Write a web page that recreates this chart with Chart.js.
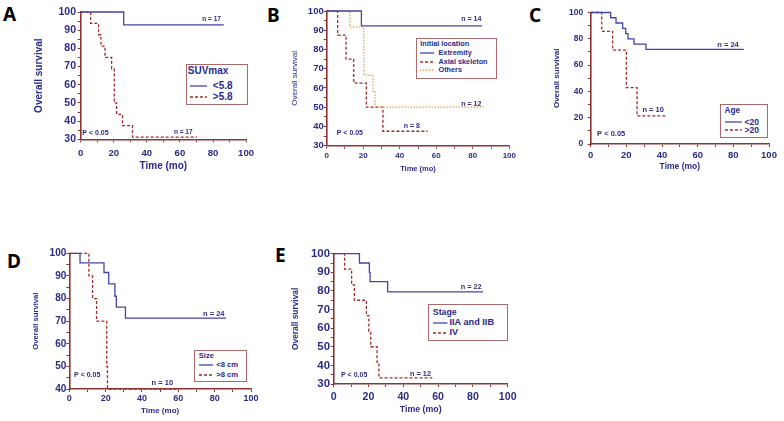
<!doctype html>
<html>
<head>
<title>Overall survival</title>
<script src="https://cdn.jsdelivr.net/npm/chart.js@4.4.1"></script>
<style>
* { margin: 0; padding: 0; }
body { width: 784px; height: 421px; background: #fff; position: relative; overflow: hidden; font-family: "Liberation Sans", Arial, sans-serif; }
canvas { position: absolute; }
.tag { position: absolute; font-family: "Noto Sans", sans-serif; font-weight: bold; font-size: 19px; line-height: 1; color: #000; }
.legend { position: absolute; border: 1.5px solid #a86a6a; box-sizing: border-box; background: #fff; }
.legend span { position: absolute; white-space: nowrap; color: #2b2b86; font-weight: bold; line-height: 1; transform: translateY(-50%); }
.legend svg { position: absolute; overflow: visible; }
</style>
</head>
<body>
<script>
// ---- data (time in months, survival in %) ----
// A: SUVmax
const aLowT  = [0, 26, 86.5];
const aLowS  = [100, 92.9, 92.9];
const aHighT = [0, 6, 10.8, 12.2, 14.7, 18.7, 20.3, 21.7, 25.3, 31.3, 70.3];
const aHighS = [100, 93.75, 87.5, 81.25, 75, 68.75, 50, 43.75, 37.5, 31.25, 31.25];
// B: initial location
const bExtT   = [0, 19, 85];
const bExtS   = [100, 92.3, 92.3];
const bAxialT = [0, 6, 10.6, 14.8, 21.7, 30.8, 55.3];
const bAxialS = [100, 87.5, 75, 62.5, 50, 37.5, 37.5];
const bOtherT = [0, 12.6, 20.3, 25.4, 26.5, 86];
const bOtherS = [100, 91.7, 66.7, 58.3, 50, 50];
// C: age
const cYoungT = [0, 11.2, 14.2, 17.9, 19.6, 20.9, 24.3, 31, 85.8];
const cYoungS = [100, 96, 92, 88, 84, 80, 76, 72, 72];
const cOldT   = [0, 6.2, 12.3, 20, 26, 43];
const cOldS   = [100, 85.7, 71.4, 42.9, 21.4, 21.4];
// D: size
const dSmallT = [0, 5.9, 19.1, 21.7, 25.1, 25.9, 30.9, 86.2];
const dSmallS = [100, 95.8, 91.5, 86.5, 81, 76.2, 71.3, 71.3];
const dLargeT = [0, 10.8, 12.8, 15, 20.6, 21, 59];
const dLargeS = [100, 90, 80, 70, 50, 40, 40];
// E: stage
const eEarlyT = [0, 14.8, 20.5, 20.9, 31, 85.8];
const eEarlyS = [100, 95, 90, 85, 79.5, 79.5];
const eLateT  = [0, 6.3, 10.3, 11.9, 18.8, 20.2, 21.3, 24.9, 26, 56.7];
const eLateS  = [100, 91.7, 83.3, 75, 66.7, 58.3, 50, 41.7, 33.3, 33.3];

const navy = '#2b2b86';
const axisColor = '#8e3434';
const blue = { color: '#4444a4', dash: [] };
const red = { color: '#a02a2a', dash: [3, 2] };
const orange = { color: '#f2a04a', dash: [1.5, 1.5] };
const FONT = '"Liberation Sans", Arial, sans-serif';

const notesPlugin = {
  id: 'notes',
  afterDatasetsDraw(chart, args, opts) {
    const ctx = chart.ctx, x = chart.scales.x, y = chart.scales.y;
    ctx.save();
    ctx.fillStyle = navy;
    ctx.textBaseline = 'middle';
    ctx.textAlign = 'left';
    opts.items.forEach(n => {
      ctx.font = 'bold ' + n.size + 'px ' + FONT;
      ctx.fillText(n.text, x.getPixelForValue(n.x), y.getPixelForValue(n.y));
    });
    ctx.restore();
  }
};

function makePanel(p) {
  const left = Math.round(p.yTitleX - 0.6 * p.yTitleSize);
  const top = Math.round(p.plot.t - 8);
  const right = Math.round(p.plot.r + 12);
  const bottom = Math.round(p.xTitleY + 0.6 * p.xTitleSize);
  const cv = document.createElement('canvas');
  cv.width = right - left; cv.height = bottom - top;
  cv.style.left = left + 'px'; cv.style.top = top + 'px';
  cv.style.width = (right - left) + 'px'; cv.style.height = (bottom - top) + 'px';
  document.body.appendChild(cv);
  const yW = p.plot.l - left, xH = bottom - p.plot.b;

  const grid = { drawOnChartArea: false, drawTicks: true, tickLength: 3, color: axisColor, tickWidth: 1 };
  const border = { display: true, color: axisColor, width: 1.6 };

  new Chart(cv, {
    type: 'line',
    data: {
      datasets: p.series.map(s => ({
        data: s.t.map((t, i) => ({ x: t, y: s.s[i] })),
        borderColor: s.style.color,
        borderDash: s.style.dash,
        borderWidth: 1.3,
        stepped: 'before',
        pointRadius: 0,
        fill: false,
        clip: 6
      }))
    },
    options: {
      responsive: false,
      animation: false,
      layout: { padding: { left: 0, top: p.plot.t - top, right: right - p.plot.r, bottom: 0 } },
      scales: {
        x: {
          type: 'linear', min: 0, max: 100,
          afterFit: s => { s.height = xH; },
          grid: grid, border: border,
          ticks: {
            stepSize: 10, autoSkip: false, maxRotation: 0, padding: p.xPad, color: navy,
            font: { family: FONT, size: p.xTickSize, weight: 'bold' },
            callback: v => (v % 20 === 0 ? v : '')
          },
          title: { display: true, text: 'Time (mo)', color: navy, padding: 0,
                   font: { family: FONT, size: p.xTitleSize, weight: 'bold' } }
        },
        y: {
          min: p.yMin, max: 100,
          afterFit: s => { s.width = yW; },
          grid: grid, border: border,
          ticks: {
            stepSize: p.yStep, autoSkip: false, padding: p.yPad, color: navy,
            font: { family: FONT, size: p.yTickSize, weight: 'bold' },
            callback: v => (v % p.yLabelEvery === 0 ? v : '')
          },
          title: { display: true, text: 'Overall survival', color: navy, padding: 0,
                   font: { family: FONT, size: p.yTitleSize, weight: p.yTitleWeight } }
        }
      },
      plugins: {
        legend: { display: false },
        tooltip: { enabled: false },
        notes: { items: p.notes }
      }
    },
    plugins: [notesPlugin]
  });
}

function makeLegend(g) {
  const bw = 1.5;
  const box = document.createElement('div');
  box.className = 'legend';
  box.style.left = g.box[0] + 'px'; box.style.top = g.box[1] + 'px';
  box.style.width = g.box[2] + 'px'; box.style.height = g.box[3] + 'px';
  const t = document.createElement('span');
  t.textContent = g.title;
  t.style.fontSize = g.titleSize + 'px';
  t.style.left = (g.titleX - g.box[0] - bw) + 'px';
  t.style.top = (g.titleY - g.box[1] - bw) + 'px';
  box.appendChild(t);
  g.items.forEach(it => {
    const ly = it.y - g.box[1] - bw;
    const svg = document.createElementNS('http://www.w3.org/2000/svg', 'svg');
    svg.setAttribute('width', g.line[1] - g.line[0]);
    svg.setAttribute('height', 4);
    svg.style.left = (g.line[0] - g.box[0] - bw) + 'px';
    svg.style.top = (ly - 2) + 'px';
    const ln = document.createElementNS('http://www.w3.org/2000/svg', 'line');
    ln.setAttribute('x1', 0); ln.setAttribute('x2', g.line[1] - g.line[0]);
    ln.setAttribute('y1', 2); ln.setAttribute('y2', 2);
    ln.setAttribute('stroke', it.style.color);
    ln.setAttribute('stroke-width', 1.3);
    if (it.style.dash.length) ln.setAttribute('stroke-dasharray', it.style.dash.join(' '));
    svg.appendChild(ln);
    box.appendChild(svg);
    const s = document.createElement('span');
    s.textContent = it.label;
    s.style.fontSize = g.itemSize + 'px';
    s.style.left = (g.textX - g.box[0] - bw) + 'px';
    s.style.top = ly + 'px';
    box.appendChild(s);
  });
  document.body.appendChild(box);
}

function makeTag(letter, x, y) {
  const d = document.createElement('div');
  d.className = 'tag';
  d.textContent = letter;
  d.style.left = x + 'px'; d.style.top = y + 'px';
  document.body.appendChild(d);
}

// A
makePanel({
  plot: { l: 80.7, r: 246.7, t: 11.7, b: 139.3 },
  yMin: 30, yStep: 5, yLabelEvery: 10,
  yTitleX: 39, yTitleSize: 10, yTitleWeight: 'bold', yTickSize: 10.5, yPad: 1.7,
  xTitleY: 166, xTitleSize: 10, xTickSize: 9.6, xPad: 4.9,
  series: [{ t: aLowT, s: aLowS, style: blue }, { t: aHighT, s: aHighS, style: red }],
  notes: [{ text: 'n = 17', x: 73.5, y: 96, size: 6.5 }, { text: 'n = 17', x: 56.4, y: 33.7, size: 6.5 },
          { text: 'P < 0.05', x: 1, y: 33.7, size: 7 }]
});
makeLegend({ box: [186, 64, 62, 41], title: 'SUVmax', titleX: 188.3, titleY: 71, titleSize: 10,
  line: [190, 207], textX: 213.3, itemSize: 10,
  items: [{ label: '<5.8', y: 86, style: blue }, { label: '>5.8', y: 97.3, style: red }] });
makeTag('A', 3, 5);

// B
makePanel({
  plot: { l: 326.7, r: 509.3, t: 11, b: 145.7 },
  yMin: 30, yStep: 5, yLabelEvery: 10,
  yTitleX: 295, yTitleSize: 8, yTitleWeight: 'normal', yTickSize: 9.5, yPad: 0,
  xTitleY: 168, xTitleSize: 7.5, xTickSize: 8, xPad: 2.2,
  series: [{ t: bExtT, s: bExtS, style: blue }, { t: bOtherT, s: bOtherS, style: orange },
           { t: bAxialT, s: bAxialS, style: red }],
  notes: [{ text: 'n = 14', x: 73.7, y: 95.9, size: 7 }, { text: 'n = 12', x: 73.7, y: 51.7, size: 7 },
          { text: 'n = 8', x: 42.2, y: 40.2, size: 7 }, { text: 'P < 0.05', x: 5.5, y: 36.8, size: 7 }]
});
makeLegend({ box: [416.3, 38.3, 81, 41], title: 'Initial location', titleX: 420.7, titleY: 44.3, titleSize: 7.3,
  line: [420.7, 435], textX: 439, itemSize: 7.3,
  items: [{ label: 'Extremity', y: 53.3, style: blue }, { label: 'Axial skeleton', y: 62.3, style: red },
          { label: 'Others', y: 71, style: orange }] });
makeTag('B', 267, 6);

// C
makePanel({
  plot: { l: 590.7, r: 769, t: 11, b: 144 },
  yMin: 0, yStep: 10, yLabelEvery: 20,
  yTitleX: 556.7, yTitleSize: 8, yTitleWeight: 'bold', yTickSize: 8.5, yPad: 4.4,
  xTitleY: 167, xTitleSize: 8.5, xTickSize: 9.5, xPad: 2.3,
  series: [{ t: cYoungT, s: cYoungS, style: blue }, { t: cOldT, s: cOldS, style: red }],
  notes: [{ text: 'n = 24', x: 71, y: 75.2, size: 7.5 }, { text: 'n = 10', x: 29, y: 25.6, size: 7.5 },
          { text: 'P < 0.05', x: 3.6, y: 8, size: 7.5 }]
});
makeLegend({ box: [720, 104, 47.7, 34], title: 'Age', titleX: 725, titleY: 111.7, titleSize: 8.2,
  line: [725, 741.7], textX: 745, itemSize: 8.5,
  items: [{ label: '<20', y: 122, style: blue }, { label: '>20', y: 130.7, style: red }] });
makeTag('C', 529, 6);

// D
makePanel({
  plot: { l: 69.3, r: 251, t: 253.3, b: 389 },
  yMin: 40, yStep: 5, yLabelEvery: 10,
  yTitleX: 36, yTitleSize: 7.7, yTitleWeight: 'bold', yTickSize: 10, yPad: 0,
  xTitleY: 411, xTitleSize: 8, xTickSize: 9, xPad: 1.6,
  series: [{ t: dSmallT, s: dSmallS, style: blue }, { t: dLargeT, s: dLargeS, style: red }],
  notes: [{ text: 'n = 24', x: 73.6, y: 73.2, size: 7.5 }, { text: 'n = 10', x: 45.3, y: 42.9, size: 7.5 },
          { text: 'P < 0.05', x: 2.6, y: 46, size: 7 }]
});
makeLegend({ box: [194.3, 350, 53, 32.3], title: 'Size', titleX: 199.3, titleY: 356, titleSize: 7.5,
  line: [199.3, 213.3], textX: 216.7, itemSize: 7.7,
  items: [{ label: '<8 cm', y: 365.7, style: blue }, { label: '>8 cm', y: 375, style: red }] });
makeTag('D', 7, 252);

// E
makePanel({
  plot: { l: 333.7, r: 507.7, t: 253.7, b: 384 },
  yMin: 30, yStep: 5, yLabelEvery: 10,
  yTitleX: 296, yTitleSize: 8.4, yTitleWeight: 'bold', yTickSize: 11.4, yPad: 0.7,
  xTitleY: 410, xTitleSize: 8.8, xTickSize: 10.6, xPad: 3.3,
  series: [{ t: eEarlyT, s: eEarlyS, style: blue }, { t: eLateT, s: eLateS, style: red }],
  notes: [{ text: 'n = 22', x: 73, y: 81.9, size: 7.3 }, { text: 'n = 12', x: 43.9, y: 35.4, size: 7.3 },
          { text: 'P < 0.05', x: 4.2, y: 35, size: 7 }]
});
makeLegend({ box: [427.7, 304.3, 80.6, 36.4], title: 'Stage', titleX: 433.3, titleY: 312.7, titleSize: 8.8,
  line: [433.3, 447.7], textX: 450, itemSize: 9.2,
  items: [{ label: 'IIA and IIB', y: 323.3, style: blue }, { label: 'IV', y: 334, style: red }] });
makeTag('E', 275, 246);
</script>
</body>
</html>
